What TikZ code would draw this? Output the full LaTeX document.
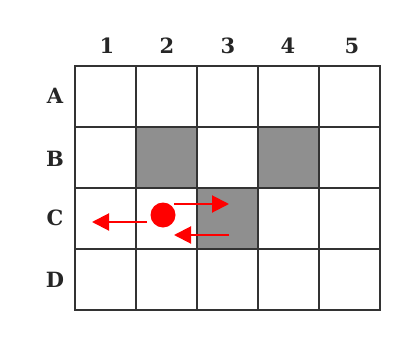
\documentclass[tikz,border=0pt]{standalone}
\usepackage{fontspec}
\newfontfamily\lblfont{DejaVu Serif}
\usetikzlibrary{arrows.meta}
\begin{document}
\begin{tikzpicture}[x=1pt,y=-1pt,
  cell/.style={minimum width=61pt,minimum height=61pt,inner sep=0pt,anchor=north west},
  shaded/.style={fill=black!44},
  gridline/.style={draw=black!80,line width=2pt,line cap=rect},
  lbl/.style={font=\lblfont\fontsize{21}{25}\selectfont\bfseries,text=black!85,inner sep=0pt},
  redarrow/.style={draw=red,line width=2pt,-{Triangle[length=17pt,width=17pt]}}]
\useasboundingbox (0,0) rectangle (409,353);
\foreach \r [count=\i from 0] in {A,B,C,D}{
  \foreach \c [count=\j from 0] in {1,...,5}{
    \node[cell] (cell-\r\c) at ({75+61*\j},{66+61*\i}) {};
  }
}
\foreach \n in {B2,B4,C3}{\fill[black!44] (cell-\n.north west) rectangle (cell-\n.south east);}
\foreach \c in {1,...,5}{\draw[gridline] (cell-A\c.north west) -- (cell-D\c.south west);}
\draw[gridline] (cell-A5.north east) -- (cell-D5.south east);
\foreach \r in {A,B,C,D}{\draw[gridline] (cell-\r1.north west) -- (cell-\r5.north east);}
\draw[gridline] (cell-D1.south west) -- (cell-D5.south east);
\foreach \c/\x in {1/107,2/167,3/228,4/288,5/352}{\node[lbl] (col\c) at (\x,46) {\c};}
\foreach \r/\y in {A/96,B/159,C/218,D/280}{\node[lbl] (row\r) at (55,\y) {\r};}
\node[circle,fill=red,minimum size=25pt,inner sep=0pt] (dot) at (163,215) {};
\coordinate (a1s) at (174,204); \coordinate (a1e) at (229,204);
\coordinate (a2s) at (147,222); \coordinate (a2e) at (92,222);
\coordinate (a3s) at (229,235); \coordinate (a3e) at (174,235);
\draw[redarrow] (a1s) -- (a1e);
\draw[redarrow] (a2s) -- (a2e);
\draw[redarrow] (a3s) -- (a3e);
\end{tikzpicture}
\end{document}
